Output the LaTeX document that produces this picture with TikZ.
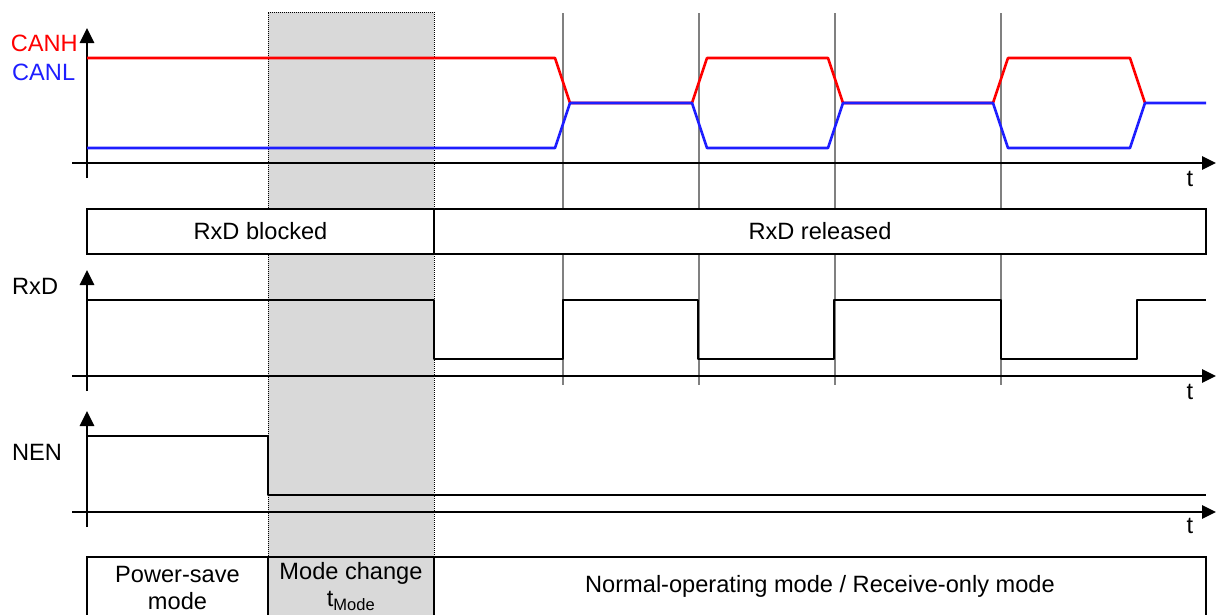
\documentclass[tikz,border=0pt]{standalone}
\usepackage{fontspec}
\setmainfont{Liberation Sans}
\usetikzlibrary{arrows.meta}
\definecolor{canh}{RGB}{255,0,0}
\definecolor{canl}{RGB}{30,30,255}
\definecolor{shadegray}{RGB}{217,217,217}
\begin{document}
\begin{tikzpicture}[x=1pt,y=-1pt,
  axis/.style={line width=2.7pt, -{Triangle[length=14pt,width=13pt]}},
  axisv/.style={line width=2.7pt, -{Triangle[length=15pt,width=14pt]}},
  sig/.style={line width=2.6pt, line join=round},
  gridline/.style={line width=1.4pt, black!50},
  boxw/.style={draw, line width=2.6pt, fill=white},
  lbl/.style={font=\fontsize{23.6}{27}\selectfont, inner sep=0pt}]
\useasboundingbox (0,0) rectangle (1216,614);
% shaded mode-change region
\fill[shadegray] (268,12) rectangle (434,620);
\draw[densely dotted, line width=1pt] (268,620) -- (268,12) -- (434,12) -- (434,620);
% grid lines
\foreach \x in {563,699,835,1001} \draw[gridline] (\x,13) -- (\x,385);

% ---- CAN bus ----
\draw[axis] (72,163) -- (1216,163);
\draw[axisv] (87,178) -- (87,28);
\draw[sig, canh] (87,58) -- (555,58) -- (570,103) -- (692,103) -- (707,58) -- (828,58) -- (843,103)
  -- (993,103) -- (1008,58) -- (1130,58) -- (1145,103);
\draw[sig, canl] (87,148) -- (555,148) -- (570,103) -- (692,103) -- (707,148) -- (828,148) -- (843,103)
  -- (993,103) -- (1008,148) -- (1130,148) -- (1145,103) -- (1206,103);
\node[lbl, canh, anchor=east] (lcanh) at (78,43) {CANH};
\node[lbl, canl, anchor=west] (lcanl) at (12,72) {CANL};
\node[lbl, anchor=center] (t1) at (1190,179) {t};

% ---- RxD status box ----
\draw[boxw] (87,209) rectangle (434,254);
\draw[boxw] (434,209) rectangle (1206,254);
\node[lbl] (blocked) at (260.5,231.5) {RxD blocked};
\node[lbl] (released) at (820,231.5) {RxD released};

% ---- RxD ----
\draw[axis] (72,376) -- (1216,376);
\draw[axisv] (87,391) -- (87,270);
\draw[sig] (87,300) -- (434,300) -- (434,359) -- (563,359) -- (563,300) -- (698,300) -- (698,359)
  -- (834,359) -- (834,300) -- (1001,300) -- (1001,359) -- (1137,359) -- (1137,300) -- (1206,300);
\node[lbl, anchor=west] (lrxd) at (12,286) {RxD};
\node[lbl, anchor=center] (t2) at (1190,392) {t};

% ---- NEN ----
\draw[axis] (72,512) -- (1216,512);
\draw[axisv] (87,527) -- (87,411);
\draw[sig] (87,436) -- (268,436) -- (268,495) -- (1206,495);
\node[lbl, anchor=west] (lnen) at (12,452) {NEN};
\node[lbl, anchor=center] (t3) at (1190,526) {t};

% ---- mode boxes ----
\draw[boxw] (87,557) rectangle (268,630);
\draw[draw, line width=2.6pt, fill=shadegray] (268,557) rectangle (434,630);
\draw[boxw] (434,557) rectangle (1206,630);
\node[lbl, align=center] (psave) at (177.5,588) {Power-save\\mode};
\node[lbl] (mchange) at (351,573) {Mode change};
\node[lbl] (tmode) at (351,601) {t\textsubscript{Mode}};
\node[lbl] (normal) at (820,586) {Normal-operating mode / Receive-only mode};
\end{tikzpicture}
\end{document}
